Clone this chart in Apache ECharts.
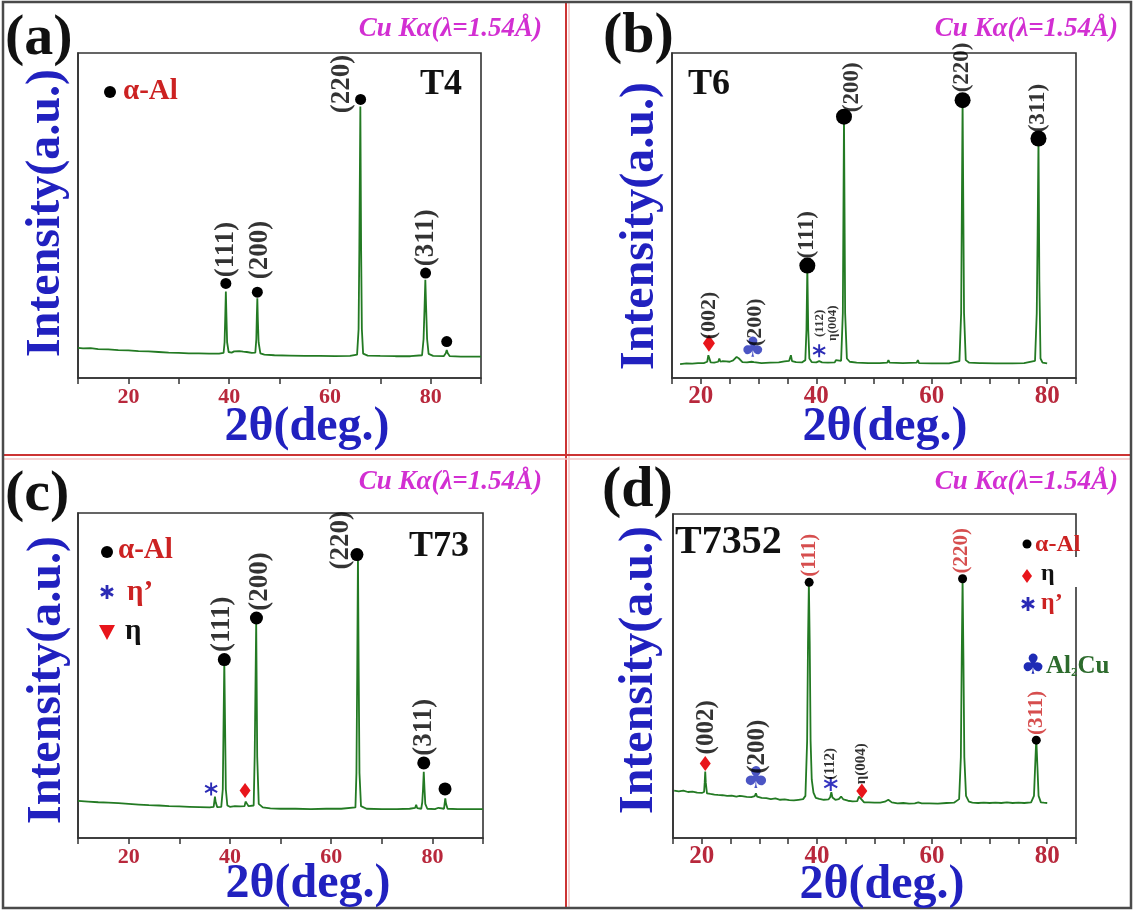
<!DOCTYPE html>
<html><head><meta charset="utf-8">
<script src="https://cdn.jsdelivr.net/npm/echarts@6/dist/echarts.min.js"></script>
<style>html,body{margin:0;padding:0;background:#fff}#c{width:1134px;height:911px}</style>
</head><body><div id="c"></div>
<script>
// ---------------- DATA ----------------
const tickLabels = [20, 40, 60, 80];

// (a) T4 pattern [2theta, intensity a.u.]
const patternA = [[10,9.3],[11,9.1],[12.5,9.2],[14,8.9],[16,8.8],[18,8.6],[20,8.5],[22,8.3],[24,8.2],[26,8.0],[28,7.8],[30,7.7],[32,7.6],[34,7.6],[36,7.5],[38,7.5],[38.9,7.7],[39.1,11],[39.25,20],[39.35,26.6],[39.45,20],[39.6,11],[39.9,8.0],[40.5,7.8],[41,8.2],[42,8.3],[42.8,8.1],[43.5,8.0],[44.5,7.7],[45.2,7.8],[45.4,12],[45.5,19],[45.6,24.5],[45.7,18],[45.85,11],[46.2,7.6],[47,7.2],[49,7.0],[52,6.9],[55,6.8],[58,6.8],[61,6.7],[64,6.8],[65.4,7.2],[65.7,15],[65.85,40],[66.05,83.5],[66.2,40],[66.35,15],[66.6,7.5],[67.5,6.9],[70,6.8],[73,6.7],[76,6.7],[78.3,7.0],[78.6,12],[78.8,22],[78.95,30.2],[79.1,22],[79.3,12],[79.6,7.4],[80.5,6.8],[82.6,6.7],[83.0,7.6],[83.2,8.6],[83.4,7.6],[83.8,6.7],[86,6.6],[88,6.6],[90,6.6]];
const dotsA = [[39.35,29.1],[45.6,26.4],[66.1,85.7],[79.0,32.3],[83.2,11.2]];
const hklA = [[39.4,31.0,'(111)'],[46.2,30.4,'(200)'],[62.4,81.5,'(220)'],[79.0,34.4,'(311)']];

// (b) T6
const patternB = [[16.4,4.3],[17.5,4.5],[18.5,4.4],[19.5,4.6],[20.5,4.6],[21.1,5.0],[21.3,7.0],[21.4,7.6],[21.5,6.5],[21.7,4.8],[22.3,4.7],[23.0,5.0],[23.2,6.0],[23.4,5.0],[23.8,5.2],[24.1,5.8],[24.4,5.1],[25.0,5.0],[25.6,5.4],[26.2,6.5],[26.6,6.0],[27.2,4.9],[28.0,4.8],[28.8,5.0],[29.0,5.6],[29.2,4.9],[30.5,4.6],[32,4.7],[33.5,4.8],[34.5,5.1],[35.3,5.3],[35.6,7.0],[35.8,5.2],[36.5,4.9],[37.5,4.8],[38.1,5.5],[38.3,15],[38.45,34.2],[38.6,15],[38.8,6.0],[39.2,4.9],[40,4.8],[40.5,5.2],[41,4.8],[42,4.7],[43.2,4.8],[43.4,5.5],[43.6,4.9],[44.3,5.3],[44.6,20],[44.8,80.4],[45.0,20],[45.3,6.0],[45.8,5.0],[47,4.7],[49,4.6],[51,4.6],[52.3,4.7],[52.5,5.5],[52.7,4.7],[55,4.6],[57.4,4.7],[57.6,5.5],[57.8,4.6],[60,4.5],[63,4.5],[64.8,5.2],[65.1,20],[65.35,85.5],[65.6,20],[65.9,5.5],[66.5,4.7],[68.3,4.6],[68.5,5.2],[68.7,4.6],[71,4.5],[74,4.5],[76,4.6],[77.9,5.3],[78.2,20],[78.35,44],[78.5,73.7],[78.65,30],[78.85,6],[79.2,4.7],[80,4.5]];
const dotsB = [[38.45,34.6],[44.8,80.4],[65.35,85.5],[78.5,73.7]];
const diamondsB = [[21.4,10.7]];
const clubsB = [[29.0,8.8]];
const starsB = [[40.5,8.4]];
const hklB = [[38.45,36.8,'(111)'],[46.2,81.8,'(200)'],[65.2,87.9,'(220)'],[78.4,75.6,'(311)']];
const hklBsmall = [[21.4,11.9,'(002)'],[29.4,9.8,'(200)']];
const hklBtiny = [[40.5,12.6,'(112)'],[42.9,11.4,'η(004)']];

// (c) T73
const patternC = [[10,11.4],[12,11.2],[14,11.0],[16,10.9],[18,10.7],[20,10.5],[22,10.3],[24,10.1],[26,10.0],[28,9.8],[30,9.7],[32,9.6],[34,9.5],[36,9.4],[36.8,9.6],[36.95,11.5],[37.05,12.7],[37.2,11],[37.5,9.5],[38.3,9.6],[38.6,15],[38.75,35],[38.9,54.5],[39.05,35],[39.2,15],[39.5,10],[40,9.6],[41,9.8],[42,9.7],[42.9,9.8],[43.1,11.2],[43.25,11.7],[43.4,10.5],[43.7,9.8],[44.7,10],[44.9,25],[45.2,66.5],[45.4,25],[45.7,10.5],[46.5,9.4],[48,9.1],[50,9.0],[53,9.0],[56,8.9],[59,9.0],[62,9.0],[64.8,9.4],[65.0,20],[65.15,50],[65.3,87.1],[65.45,50],[65.6,20],[65.9,9.8],[67,9.0],[70,8.9],[73,8.9],[75.5,9.0],[76.6,9.3],[76.8,10.2],[77.0,9.2],[77.8,9.0],[78.0,11],[78.15,15],[78.3,20.4],[78.45,15],[78.6,10.5],[79,9.0],[80.5,8.9],[81.2,9.3],[81.5,8.9],[82.3,9.0],[82.45,11],[82.55,12.2],[82.7,10.5],[83,9.0],[85,8.9],[88,8.9],[90,8.9]];
const dotsC = [[38.9,54.9],[45.25,67.7],[65.1,87.2],[78.3,23.1],[82.5,15.1]];
const starsC = [[36.3,15.1]];
const diamondsC = [[43.0,14.6]];
const hklC = [[38.4,57.2,'(111)'],[45.9,69.9,'(200)'],[61.9,82.6,'(220)'],[78.3,25.3,'(311)']];

// (d) T7352
const patternD = [[15.2,14.6],[16,14.4],[16.8,14.6],[17.6,14.2],[18.4,14.3],[19.2,14.0],[20.0,13.9],[20.4,14.2],[20.5,17],[20.6,20.5],[20.7,17],[20.9,13.8],[21.5,13.6],[22.2,13.4],[22.5,14.0],[22.8,13.3],[23.6,13.2],[24.4,13.0],[25.2,13.1],[26.0,12.8],[26.6,13.0],[26.8,13.6],[27.0,12.9],[27.8,12.7],[28.6,12.6],[29.2,12.9],[29.4,13.8],[29.6,12.8],[30.4,12.4],[31.2,12.3],[32.0,12.0],[32.8,12.2],[33.6,11.8],[34.4,11.9],[35.2,11.7],[36.0,11.6],[36.8,11.8],[37.6,12.0],[38.0,13],[38.3,30],[38.45,60],[38.6,78.6],[38.75,60],[38.9,30],[39.1,18],[39.4,14.0],[39.8,12.4],[40.4,12.1],[41.2,11.8],[42.0,11.9],[42.3,12.6],[42.5,14.1],[42.7,12.5],[43.2,11.8],[43.8,12.0],[44.2,12.8],[44.6,11.9],[45.4,11.5],[46.2,11.3],[47.0,11.4],[47.3,12.8],[47.5,13.3],[47.7,12.0],[48.2,11.0],[49.0,11.0],[50.0,10.9],[51.0,10.9],[51.8,11.2],[52.4,11.8],[53.0,11.0],[54.0,10.7],[55.0,10.8],[56.0,10.6],[57.0,10.7],[57.6,11.0],[58.2,10.7],[59.5,10.7],[61,10.6],[62.5,10.8],[63.8,10.9],[64.7,12],[65.0,25],[65.15,55],[65.3,80.2],[65.45,55],[65.6,25],[65.9,13],[66.4,11.2],[67,10.9],[68,10.8],[69,10.9],[70,10.8],[71,10.9],[72,10.8],[73,11.0],[74,10.8],[75,10.9],[76,10.8],[77.2,11.0],[77.7,13],[77.9,22],[78.1,30.8],[78.3,22],[78.5,13],[78.9,11],[79.4,10.9],[80,10.8]];
const dotsD = [[38.65,78.9],[65.3,80.0],[78.1,30.2]];
const diamondsD = [[20.6,23.0],[47.8,14.5]];
const clubsD = [[29.4,17.7]];
const starsD = [[42.4,16.7]];
const hklDred = [[38.7,80.6,'(111)'],[65.1,81.6,'(220)'],[78.1,31.8,'(311)']];
const hklDblack = [[20.9,25.8,'(002)'],[29.7,19.8,'(200)']];
const hklDsmall = [[42.3,18.0,'(112)'],[47.7,16.6,'η(004)']];

// ---------------- STYLE / LAYOUT ----------------
const SERIF = '"Liberation Serif","Times New Roman",serif';
const GREEN = '#237a23';
const TICKRED = '#b8283c';
const BLUE = '#2121bf';
const STAR = 'M8.6 0L11.4 0L11.4 20L8.6 20Z M0.5 6.4L1.9 3.6L19.5 13.6L18.1 16.4Z M18.1 3.6L19.5 6.4L1.9 16.4L0.5 13.6Z';

const grids = [
  {left:78, top:53, width:403, height:325},
  {left:672, top:53, width:404, height:325},
  {left:78, top:513, width:405, height:325},
  {left:673, top:514, width:403, height:324}
];
const ranges = [[10,90,10,22,8],[15,85,5,25,6],[10,90,10,22,8],[15,85,5,25,6]];

const chart = echarts.init(document.getElementById('c'), null, {renderer:'canvas'});

function line(i, data){return {type:'line', xAxisIndex:i, yAxisIndex:i, data, symbol:'none', showSymbol:false, lineStyle:{color:GREEN, width:1.8}, silent:true, z:2};}
function marks(i, data, symbol, size, color){return {type:'scatter', xAxisIndex:i, yAxisIndex:i, data, symbol, symbolSize:size, itemStyle:{color, opacity:1}, clip:false, silent:true, z:4};}
function glyph(i, data, ch, fs, color){return {type:'scatter', xAxisIndex:i, yAxisIndex:i, data, symbolSize:0, itemStyle:{color:'transparent'}, clip:false, silent:true, z:5,
  label:{show:true, position:'inside', formatter:ch, fontFamily:'"DejaVu Sans"', fontSize:fs, color, align:'center', verticalAlign:'middle'}};}
function hkl(i, arr, fs, color, weight){return {type:'scatter', xAxisIndex:i, yAxisIndex:i, data:arr.map(d=>({value:[d[0],d[1]], name:d[2]})), symbolSize:0, itemStyle:{color:'transparent'}, clip:false, silent:true, z:6,
  label:{show:true, position:'inside', formatter:p=>p.name, rotate:90, align:'left', verticalAlign:'middle', fontFamily:SERIF, fontWeight:weight||'bold', fontSize:fs, color:color||'#000'}};}

const series = [
  line(0, patternA), marks(0, dotsA, 'circle', 11, '#000'), hkl(0, hklA, 27),
  line(1, patternB), marks(1, dotsB, 'circle', 16, '#000'), marks(1, diamondsB, 'diamond', [12,17], '#e8151b'),
  glyph(1, clubsB, '♣', 28, '#1e2bb5'), marks(1, starsB, 'path://'+STAR, 13, '#2b2bb5'),
  hkl(1, hklB, 23), hkl(1, hklBsmall, 22), hkl(1, hklBtiny, 13),
  line(2, patternC), marks(2, dotsC, 'circle', 13, '#000'), marks(2, starsC, 'path://'+STAR, 13, '#2b2bb5'),
  marks(2, diamondsC, 'diamond', [11,15], '#e8151b'), hkl(2, hklC, 27),
  line(3, patternD), marks(3, dotsD, 'circle', 9, '#000'), marks(3, diamondsD, 'diamond', [11,15], '#e8151b'),
  glyph(3, clubsD, '♣', 30, '#1e2bb5'), marks(3, starsD, 'path://'+STAR, 14, '#3535c0'),
  hkl(3, hklDred, 21, '#cc2222'), hkl(3, hklDblack, 25), hkl(3, hklDsmall, 15)
];

const xAxis = ranges.map((r,i)=>({gridIndex:i, type:'value', min:r[0], max:r[1], interval:r[2],
  axisLine:{show:true, onZero:false, lineStyle:{color:'#333', width:1.6}},
  axisTick:{show:true, length:6, lineStyle:{color:'#333', width:1.5}},
  axisLabel:{formatter:v=>tickLabels.includes(v)?String(v):'', color:TICKRED, fontFamily:SERIF, fontWeight:'bold', fontSize:r[3], margin:r[4]},
  splitLine:{show:false}}));
const yAxis = grids.map((g,i)=>({gridIndex:i, type:'value', min:0, max:100,
  axisLine:{show:true, lineStyle:{color:'#333', width:1.6}}, axisTick:{show:false}, axisLabel:{show:false}, splitLine:{show:false}}));

function txt(x, y, text, font, fill, align, extra){return Object.assign({type:'text', x, y, silent:true, z:10, style:{text, font, fill, align:align||'left', verticalAlign:'middle'}}, extra||{});}
function starIcon(cx, cy, r, hw, fill){
  return [90, 30, 150].map(a=>{
    const t = a*Math.PI/180, dx = Math.cos(t)*r, dy = Math.sin(t)*r, nx = -Math.sin(t)*hw, ny = Math.cos(t)*hw;
    return {type:'polygon', silent:true, z:10, shape:{points:[[cx+dx+nx, cy+dy+ny],[cx+dx-nx, cy+dy-ny],[cx-dx-nx, cy-dy-ny],[cx-dx+nx, cy-dy+ny]]}, style:{fill}};
  });
}

const panelText = [
  {lab:'(a)', lx:5, ly:39, cx:542, cy:29, yt:[47,213], xt:[307,428]},
  {lab:'(b)', lx:603, ly:37, cx:1118, cy:29, yt:[641,226], xt:[885,428]},
  {lab:'(c)', lx:5, ly:495, cx:542, cy:482, yt:[48,680], xt:[308,885]},
  {lab:'(d)', lx:602, ly:491, cx:1118, cy:482, yt:[640,670], xt:[882,886]}
];
const graphic = [
  {type:'rect', shape:{x:3,y:2,width:1128,height:906}, style:{fill:null, stroke:'#4a4a4a', lineWidth:2.5}, silent:true, z:1},
  {type:'line', shape:{x1:566,y1:3,x2:566,y2:907}, style:{stroke:'#cc3333', lineWidth:2}, silent:true},
  {type:'line', shape:{x1:569,y1:3,x2:569,y2:907}, style:{stroke:'#f3c4c4', lineWidth:1.5}, silent:true},
  {type:'line', shape:{x1:4,y1:455,x2:1130,y2:455}, style:{stroke:'#cc3333', lineWidth:2}, silent:true},
  {type:'line', shape:{x1:4,y1:459,x2:1130,y2:459}, style:{stroke:'#f3c4c4', lineWidth:1.5}, silent:true}
];
panelText.forEach(p=>{
  graphic.push(txt(p.lx, p.ly, p.lab, 'bold 58px '+SERIF, '#111'));
  graphic.push(txt(p.cx, p.cy, 'Cu Kα(λ=1.54Å)', 'italic bold 27px '+SERIF, '#d22fd2', 'right'));
  graphic.push(txt(p.yt[0], p.yt[1], 'Intensity(a.u.)', 'bold 48px '+SERIF, BLUE, 'center', {rotation:Math.PI/2}));
  graphic.push(txt(p.xt[0], p.xt[1], '2θ(deg.)', 'bold 48px '+SERIF, BLUE, 'center'));
});
// sample names
graphic.push(txt(420, 85, 'T4', 'bold 36px '+SERIF, '#111'));
graphic.push(txt(688, 85, 'T6', 'bold 36px '+SERIF, '#111'));
graphic.push(txt(409, 547, 'T73', 'bold 36px '+SERIF, '#111'));
graphic.push(txt(675, 543, 'T7352', 'bold 40px '+SERIF, '#111'));
// legends
const LF = 'bold 29px '+SERIF;
graphic.push({type:'circle', shape:{cx:110, cy:92, r:6}, style:{fill:'#000'}, silent:true, z:10});
graphic.push(txt(123, 92, 'α-Al', LF, '#cc2222'));
graphic.push({type:'circle', shape:{cx:107, cy:552, r:6}, style:{fill:'#000'}, silent:true, z:10});
graphic.push(txt(118, 551, 'α-Al', LF, '#cc2222'));
starIcon(107, 592, 7, 1.4, '#2b2bb5').forEach(e=>graphic.push(e));
graphic.push(txt(127, 593, 'η’', LF, '#cc2222'));
graphic.push({type:'polygon', shape:{points:[[99,625],[115,625],[107,640]]}, style:{fill:'#e8151b'}, silent:true, z:10});
graphic.push(txt(125, 632, 'η', LF, '#111'));
const LF2 = 'bold 24px '+SERIF;
graphic.push({type:'rect', shape:{x:1062,y:557,width:16,height:30}, style:{fill:'#fff'}, silent:true, z:9});
graphic.push({type:'circle', shape:{cx:1027, cy:544, r:4.5}, style:{fill:'#000'}, silent:true, z:10});
graphic.push(txt(1035, 545, 'α-Al', LF2, '#cc2222'));
graphic.push({type:'polygon', shape:{points:[[1027,569],[1032,576],[1027,583],[1022,576]]}, style:{fill:'#e8151b'}, silent:true, z:10});
graphic.push(txt(1041, 574, 'η', LF2, '#111'));
starIcon(1028, 604, 7, 1.4, '#2b2bb5').forEach(e=>graphic.push(e));
graphic.push(txt(1041, 603, 'η’', LF2, '#cc2222'));
graphic.push(txt(1033, 667, '♣', '28px "DejaVu Sans"', '#1e2bb5', 'center'));
graphic.push({type:'text', x:1046, y:667, silent:true, z:10, style:{text:'{a|Al}{s|2}{a|Cu}', verticalAlign:'middle', align:'left',
  rich:{a:{font:'bold 25px '+SERIF, fill:'#2d6b2d'}, s:{font:'bold 13px '+SERIF, fill:'#2d6b2d', verticalAlign:'bottom'}}}});

chart.setOption({animation:false, backgroundColor:'#fff',
  grid: grids.map(g=>Object.assign({show:true, borderColor:'#333', borderWidth:1.6, backgroundColor:'transparent'}, g)),
  xAxis, yAxis, series, graphic});
</script></body></html>
